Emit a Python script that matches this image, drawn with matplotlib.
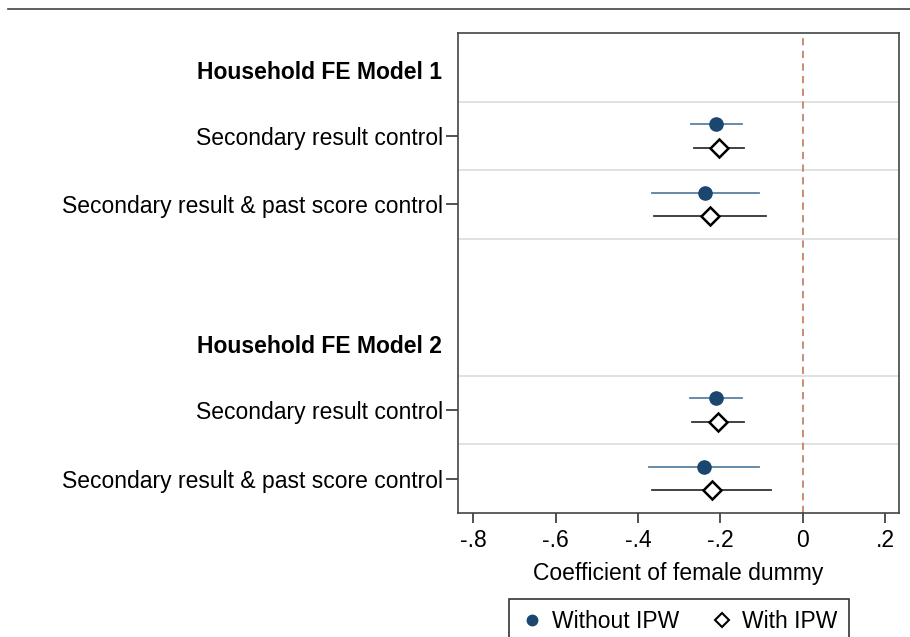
import matplotlib.pyplot as plt
import matplotlib.transforms as mtransforms
from matplotlib.lines import Line2D

plt.rcParams['font.family'] = ['Liberation Sans', 'DejaVu Sans']

headers = ["Household FE Model 1", "Household FE Model 2"]
header_pos = [0.5, 4.5]
row_labels = ["Secondary result control", "Secondary result & past score control",
              "Secondary result control", "Secondary result & past score control"]
row_pos = [1.5, 2.5, 5.5, 6.5]

# without IPW: estimate, lower, upper
coef_no = [-0.211, -0.236, -0.211, -0.239]
lo_no = [-0.271, -0.365, -0.274, -0.373]
hi_no = [-0.147, -0.106, -0.147, -0.105]
# with IPW
coef_ipw = [-0.203, -0.225, -0.206, -0.221]
lo_ipw = [-0.264, -0.360, -0.268, -0.365]
hi_ipw = [-0.142, -0.090, -0.143, -0.077]

navy = '#1a476f'
navy_ci = '#5b80a5'
fs = 16.5

fig = plt.figure(figsize=(9.1, 6.37), dpi=100)
ax = fig.add_axes([0.5033, 0.1947, 0.4846, 0.7535])

# grid lines between rows
for g in [1, 2, 3, 5, 6]:
    ax.axhline(g, color='#dcdcdc', lw=1.2, zorder=0)
ax.axvline(0, color='#c0866a', lw=1.3, ls=(0, (4, 3)), zorder=1)

off = 0.17
for i in range(len(row_pos)):
    y1 = row_pos[i] - off
    y2 = row_pos[i] + off
    ax.plot([lo_no[i], hi_no[i]], [y1, y1], color=navy_ci, lw=1.3, zorder=2)
    ax.plot(coef_no[i], y1, 'o', color=navy, ms=9.5, zorder=3)
    ax.plot([lo_ipw[i], hi_ipw[i]], [y2, y2], color='#333333', lw=1.3, zorder=2)
    ax.plot(coef_ipw[i], y2, 'D', mfc='white', mec='black', mew=1.8, ms=9, zorder=3)

ax.set_xlim(-0.837, 0.234)
ax.set_ylim(7, 0)
ax.set_xticks([-0.8, -0.6, -0.4, -0.2, 0, 0.2])
ax.set_xticklabels(['-.8', '-.6', '-.4', '-.2', '0', '.2'], fontsize=fs)
ax.set_yticks(row_pos)
ax.set_yticklabels(row_labels, fontsize=fs)
ax.tick_params(axis='both', length=8.5, width=1.2, color='#333333', pad=2)
ax.tick_params(axis='x', pad=4, length=7.5)
for s in ax.spines.values():
    s.set_color('#444444')
    s.set_linewidth(1.2)

trans = mtransforms.blended_transform_factory(ax.transAxes, ax.transData)
for h, hp in zip(headers, header_pos):
    ax.text(-0.036, hp + 0.07, h, transform=trans, ha='right', va='center',
            fontsize=fs, fontweight='bold')

ax.set_xlabel('Coefficient of female dummy', fontsize=fs, labelpad=7)

# top rule across figure
fig.add_artist(Line2D([0.009, 1.0], [0.986, 0.986], color='#444444', lw=1.2))

handles = [Line2D([], [], marker='o', color=navy, ls='none', ms=7.5),
           Line2D([], [], marker='D', mfc='white', mec='black', mew=1.5, ls='none', ms=7.5)]
leg = fig.legend(handles, ['Without IPW', 'With IPW'], loc='upper center',
                 bbox_to_anchor=(679 / 910, 1 - 599 / 637), ncol=2, fontsize=fs,
                 frameon=True, fancybox=False, edgecolor='black', handletextpad=0.35,
                 columnspacing=1.4, borderpad=0.5, borderaxespad=0, handlelength=1.0)
leg.get_frame().set_linewidth(1.2)

fig.savefig('out.png', dpi=100)
